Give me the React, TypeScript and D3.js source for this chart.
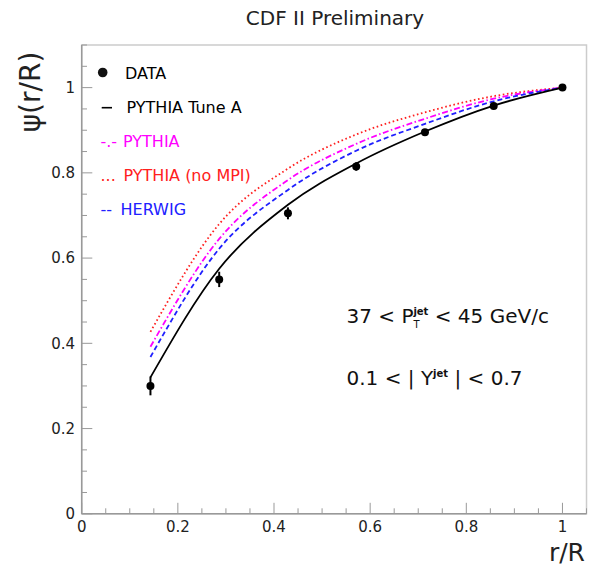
import React from "react";
import * as d3 from "d3";

// r/R bin centres
const rValues = [0.143, 0.286, 0.429, 0.571, 0.714, 0.857, 1.0];
// DATA
const dataPsi = [0.3, 0.55, 0.705, 0.815, 0.895, 0.957, 1.0];
const dataErr = [0.022, 0.018, 0.014, 0.01, 0.008, 0.006, 0.003];
// Models
const tuneA = [0.32, 0.575, 0.725, 0.822, 0.897, 0.958, 1.0];
const pythia = [0.392, 0.645, 0.783, 0.868, 0.927, 0.974, 1.0];
const pythiaNoMPI = [0.427, 0.68, 0.81, 0.89, 0.942, 0.98, 1.0];
const herwig = [0.368, 0.622, 0.76, 0.852, 0.915, 0.968, 1.0];

const xTickLabels = ["0", "0.2", "0.4", "0.6", "0.8", "1"];
const yTickLabels = ["0", "0.2", "0.4", "0.6", "0.8", "1"];

const legendLabels = ["DATA", "PYTHIA Tune A", "PYTHIA", "PYTHIA (no MPI)", "HERWIG"];

const FONT = "'DejaVu Sans', sans-serif";

export default function App() {
  const W = 595;
  const H = 568;
  const left = 81.7;
  const right = 586.5;
  const top = 45;
  const bottom = 513.8;

  const x = d3.scaleLinear().domain([0, 1.05]).range([left, right]);
  const y = d3.scaleLinear().domain([0, 1.1]).range([bottom, top]);

  const line = d3
    .line<[number, number]>()
    .x((d) => x(d[0]))
    .y((d) => y(d[1]))
    .curve(d3.curveMonotoneX);

  const series = [
    { vals: pythiaNoMPI, color: "#ff2020", dash: "1.6,2.6", width: 1.8 },
    { vals: pythia, color: "#ff00ff", dash: "6,2.5,1.5,2.5", width: 1.8 },
    { vals: herwig, color: "#2020ff", dash: "5,3", width: 1.8 },
    { vals: tuneA, color: "#000000", dash: undefined, width: 1.8 },
  ];

  const xMinor = d3.range(0, 1.051, 0.05);
  const yMinor = d3.range(0, 1.101, 0.05);
  const majorX = xTickLabels.map((t) => +t);
  const majorY = yTickLabels.map((t) => +t);
  const isMajor = (v: number, arr: number[]) => arr.some((m) => Math.abs(m - v) < 1e-6);

  const legendY = [79, 113.3, 146.8, 181.2, 215];
  const legendColors = ["#000", "#000", "#ff00ff", "#ff2020", "#2020ff"];
  const legendMarks = ["", "", "-.-", "...", "--"];
  const legendTextX = [125, 126.5, 123, 123.5, 120.5];

  return (
    <svg
      width={W}
      height={H}
      style={{ position: "absolute", left: 0, top: 0, background: "#fff" }}
      fontFamily={FONT}
    >
      <rect x={0} y={0} width={W} height={H} fill="#fff" />
      {/* Title */}
      <text x={335} y={25} textAnchor="middle" fontSize={20} fill="#222">
        CDF II Preliminary
      </text>

      {/* frame */}
      <rect
        x={left}
        y={top}
        width={right - left}
        height={bottom - top}
        fill="none"
        stroke="#cccccc"
        strokeWidth={1.5}
      />
      <line x1={left} x2={left} y1={top} y2={bottom} stroke="#999" strokeWidth={1.5} />
      <line x1={left} x2={right} y1={bottom} y2={bottom} stroke="#999" strokeWidth={1.5} />

      {/* x ticks */}
      {xMinor.map((v, i) => {
        const m = isMajor(v, majorX);
        return (
          <line
            key={"xt" + i}
            x1={x(v)}
            x2={x(v)}
            y1={bottom}
            y2={bottom - (m ? 11 : 5.5)}
            stroke="#999"
            strokeWidth={1}
          />
        );
      })}
      {xTickLabels.map((t, i) => (
        <text key={"xl" + i} x={x(+t)} y={531.5} textAnchor="middle" fontSize={15} fill="#222">
          {t}
        </text>
      ))}

      {/* y ticks */}
      {yMinor.map((v, i) => {
        const m = isMajor(v, majorY);
        return (
          <line
            key={"yt" + i}
            x1={left}
            x2={left + (m ? 10.6 : 5.3)}
            y1={y(v)}
            y2={y(v)}
            stroke="#999"
            strokeWidth={1}
          />
        );
      })}
      {yTickLabels.map((t, i) => (
        <text key={"yl" + i} x={75} y={y(+t) + 5.3} textAnchor="end" fontSize={15} fill="#222">
          {t}
        </text>
      ))}

      {/* axis titles */}
      <text x={585} y={561} textAnchor="end" fontSize={25} fill="#222">
        r/R
      </text>
      <text
        transform="translate(40,92) rotate(-90)"
        textAnchor="middle"
        fontSize={28}
        fill="#222"
      >
        ψ(r/R)
      </text>

      {/* model curves */}
      {series.map((s, i) => (
        <path
          key={"s" + i}
          d={line(rValues.map((r, j) => [r, s.vals[j]] as [number, number])) || ""}
          fill="none"
          stroke={s.color}
          strokeWidth={s.width}
          strokeDasharray={s.dash}
        />
      ))}

      {/* data */}
      {rValues.map((r, i) => (
        <g key={"d" + i}>
          <line
            x1={x(r)}
            x2={x(r)}
            y1={y(dataPsi[i] - dataErr[i])}
            y2={y(dataPsi[i] + dataErr[i])}
            stroke="#000"
            strokeWidth={2}
          />
          <circle cx={x(r)} cy={y(dataPsi[i])} r={4} fill="#000" />
        </g>
      ))}

      {/* legend */}
      <circle cx={102.7} cy={72.5} r={4.8} fill="#111" />
      <line x1={101.7} x2={112} y1={107.7} y2={107.7} stroke="#000" strokeWidth={1.6} />
      {legendLabels.map((lab, i) => (
        <g key={"lg" + i}>
          {legendMarks[i] && (
            <text x={100.5} y={legendY[i]} fontSize={16} fill={legendColors[i]}>
              {legendMarks[i]}
            </text>
          )}
          <text x={legendTextX[i]} y={legendY[i]} fontSize={16} fill={legendColors[i]}>
            {lab}
          </text>
        </g>
      ))}

      {/* annotations */}
      <text x={346.5} y={323} fontSize={20} fill="#111">
        <tspan>37 &lt; P</tspan>
        <tspan fontSize={10} dy={5}>T</tspan>
        <tspan fontSize={10} fontWeight="bold" dx={-6.2} dy={-13}>jet</tspan>
        <tspan dy={8}> &lt; 45 GeV/c</tspan>
      </text>
      <text x={346.5} y={384.5} fontSize={20} fill="#111">
        <tspan>0.1 &lt; | Y</tspan>
        <tspan fontSize={10} fontWeight="bold" dy={-8}>jet</tspan>
        <tspan dy={8}> | &lt; 0.7</tspan>
      </text>
    </svg>
  );
}
